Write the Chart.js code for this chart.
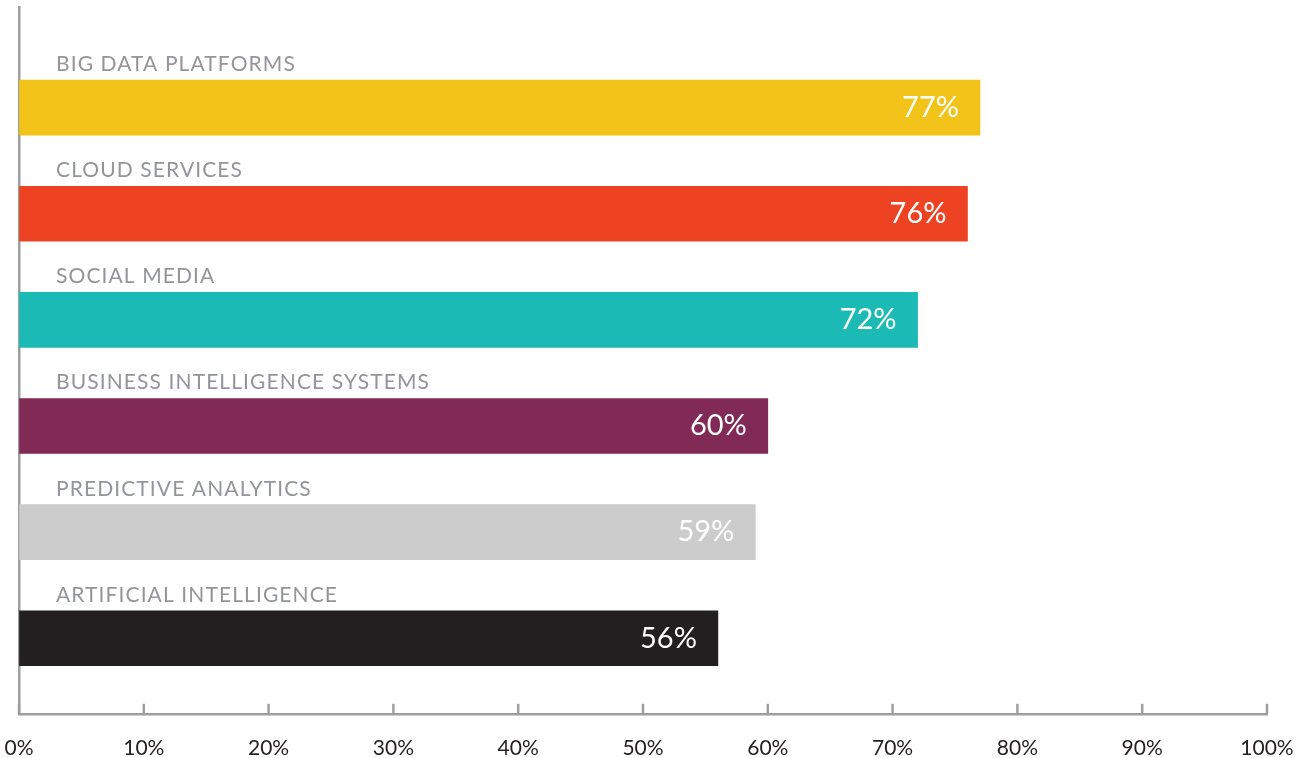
<!DOCTYPE html>
<html>
<head>
<meta charset="utf-8">
<script src="https://cdn.jsdelivr.net/npm/chart.js@4.4.1/dist/chart.umd.min.js"></script>
<style>
  html, body { margin: 0; padding: 0; background: #ffffff; }
  #wrap { width: 1309px; height: 758px; position: relative; }
</style>
</head>
<body>
<div id="wrap"><canvas id="chart"></canvas></div>
<script>
// Technologies in use, share of respondents (%)
const categories = [
  'BIG DATA PLATFORMS',
  'CLOUD SERVICES',
  'SOCIAL MEDIA',
  'BUSINESS INTELLIGENCE SYSTEMS',
  'PREDICTIVE ANALYTICS',
  'ARTIFICIAL INTELLIGENCE'
];
const shares = [77, 76, 72, 60, 59, 56];
const barColors = ['#F2C318', '#EE4323', '#1BBAB4', '#812A56', '#CCCCCC', '#231F20'];
const tickLabels = ['0%', '10%', '20%', '30%', '40%', '50%', '60%', '70%', '80%', '90%', '100%'];

const AXIS_GRAY = '#9D9EA2';
const FONT = 'Lato, "Open Sans", sans-serif';

// Category names above each bar and the value inside its right end
const barLabels = {
  id: 'barLabels',
  afterDatasetsDraw(chart) {
    const ctx = chart.ctx;
    const area = chart.chartArea;
    const meta = chart.getDatasetMeta(0);
    ctx.save();
    meta.data.forEach((bar, i) => {
      const p = bar.getProps(['x', 'y', 'base', 'height'], true);
      const top = p.y - p.height / 2;
      ctx.font = '21px ' + FONT;
      ctx.letterSpacing = '1.1px';
      ctx.fillStyle = '#939598';
      ctx.textAlign = 'left';
      ctx.textBaseline = 'alphabetic';
      ctx.fillText(categories[i], area.left + 37, top - 9);

      ctx.font = '29px ' + FONT;
      ctx.letterSpacing = '0px';
      ctx.fillStyle = '#FFFFFF';
      ctx.textAlign = 'right';
      ctx.textBaseline = 'middle';
      ctx.fillText(shares[i] + '%', p.x - 21, p.y);
    });
    ctx.restore();
  }
};

// Tick marks rise from the baseline into the plot
const innerTicks = {
  id: 'innerTicks',
  afterDraw(chart) {
    const ctx = chart.ctx;
    const xs = chart.scales.x;
    const bottom = chart.chartArea.bottom;
    ctx.save();
    ctx.strokeStyle = AXIS_GRAY;
    ctx.lineWidth = 2.5;
    xs.ticks.forEach(t => {
      const px = xs.getPixelForValue(t.value);
      ctx.beginPath();
      ctx.moveTo(px, bottom - 10);
      ctx.lineTo(px, bottom);
      ctx.stroke();
    });
    ctx.restore();
  }
};

new Chart(document.getElementById('chart'), {
  type: 'bar',
  data: {
    labels: categories,
    datasets: [{
      data: shares.map((v, i) => ({ x: v, y: i })),
      backgroundColor: barColors,
      borderWidth: 0,
      barThickness: 55
    }]
  },
  options: {
    indexAxis: 'y',
    responsive: true,
    maintainAspectRatio: false,
    animation: false,
    devicePixelRatio: 1,
    layout: { padding: { left: 19, right: 42, top: 7, bottom: -7 } },
    plugins: { legend: { display: false }, tooltip: { enabled: false } },
    scales: {
      x: {
        type: 'linear',
        min: 0,
        max: 100,
        ticks: {
          stepSize: 10,
          padding: 4,
          color: '#231F20',
          font: { family: FONT, size: 21 },
          callback: (v, i) => tickLabels[i]
        },
        grid: { drawOnChartArea: false, drawTicks: true, tickLength: 18, tickColor: 'rgba(0,0,0,0)' },
        border: { display: true, color: AXIS_GRAY, width: 2.5 }
      },
      y: {
        type: 'linear',
        reverse: true,
        offset: false,
        min: -0.948,
        max: 5.712,
        ticks: { display: false },
        grid: { display: false, drawTicks: false, offset: false },
        border: { display: true, color: AXIS_GRAY, width: 2.5 }
      }
    }
  },
  plugins: [barLabels, innerTicks]
});
</script>
</body>
</html>
